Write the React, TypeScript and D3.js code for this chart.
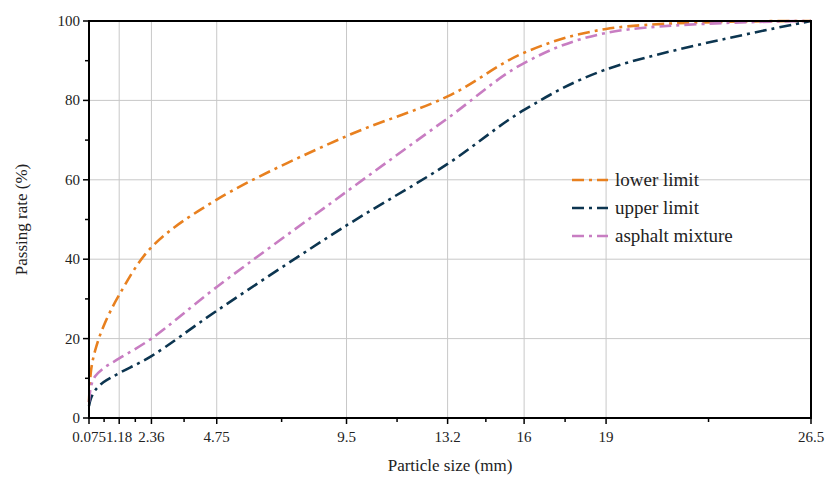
import React from 'react';
import * as d3 from 'd3';

// sieve sizes (mm)
const sizes = [0.075, 0.15, 0.3, 0.6, 1.18, 2.36, 4.75, 9.5, 13.2, 16, 19, 26.5];
const lowerLimit = [4, 12, 17, 23, 31, 43, 55, 71, 81, 92, 98, 100];
const upperLimit = [3, 5, 7, 9, 11.3, 15.6, 27, 48.5, 64, 77.6, 87.8, 100];
const asphaltMixture = [4, 8, 10.5, 12.5, 15, 20, 33, 57, 75.5, 89.4, 97, 100];

const xTicks = [0.075, 1.18, 2.36, 4.75, 9.5, 13.2, 16, 19, 26.5];
const xTickLabels = ['0.075', '1.18', '2.36', '4.75', '9.5', '13.2', '16', '19', '26.5'];
const yTicks = [0, 20, 40, 60, 80, 100];
const yMinorTicks = [10, 30, 50, 70, 90];

const seriesNames = ['lower limit', 'upper limit', 'asphalt mixture'];
const seriesColors = ['#e8801f', '#0c3550', '#c87dc2'];

const W = 829, H = 478;
const left = 89, right = 811, top = 21, bottom = 418;
const dash = '12,5,3,5';

const txt = (size: number) => ({ fontFamily: "'Liberation Serif', serif", fontSize: size });

const App = () => {
  const x = d3.scaleLinear().domain([0.075, 26.5]).range([left, right]);
  const y = d3.scaleLinear().domain([0, 100]).range([bottom, top]);

  const line = d3.line<number>()
    .x((_, i) => x(sizes[i]))
    .y(d => y(d))
    .curve(d3.curveCatmullRom.alpha(0.5));

  const seriesData = [lowerLimit, upperLimit, asphaltMixture];
  const xMinor = xTicks.slice(0, -1).map((t, i) => (t + xTicks[i + 1]) / 2);

  return (
    <svg width={W} height={H} style={{ position: 'absolute', left: 0, top: 0 }}>
      <rect width={W} height={H} fill="#fff" />

      {/* grid */}
      <g stroke="#c8c8c8" strokeWidth={1}>
        {xTicks.slice(1, -1).map(t => (
          <line key={'gx' + t} x1={x(t)} x2={x(t)} y1={top} y2={bottom} />
        ))}
        {yTicks.slice(1, -1).map(t => (
          <line key={'gy' + t} x1={left} x2={right} y1={y(t)} y2={y(t)} />
        ))}
      </g>

      {/* curves */}
      {seriesData.map((vals, i) => (
        <path key={seriesNames[i]} d={line(vals) || ''} fill="none"
          stroke={seriesColors[i]} strokeWidth={2.6} strokeDasharray={dash} />
      ))}

      {/* frame */}
      <rect x={left} y={top} width={right - left} height={bottom - top}
        fill="none" stroke="#000" strokeWidth={2} />

      {/* ticks */}
      <g stroke="#000" strokeWidth={1.5}>
        {xTicks.map(t => (
          <line key={'xt' + t} x1={x(t)} x2={x(t)} y1={bottom} y2={bottom + 6} />
        ))}
        {xMinor.map(t => (
          <line key={'xm' + t} x1={x(t)} x2={x(t)} y1={bottom} y2={bottom + 4} />
        ))}
        {yTicks.map(t => (
          <line key={'yt' + t} x1={left - 6} x2={left} y1={y(t)} y2={y(t)} />
        ))}
        {yMinorTicks.map(t => (
          <line key={'ym' + t} x1={left - 4} x2={left} y1={y(t)} y2={y(t)} />
        ))}
      </g>
      {xTicks.map((t, i) => (
        <text key={'xl' + t} x={x(t)} y={bottom + 24} textAnchor="middle"
          style={txt(15)} fill="#222">{xTickLabels[i]}</text>
      ))}
      {yTicks.map(t => (
        <text key={'yl' + t} x={left - 9} y={y(t) + 5} textAnchor="end"
          style={txt(15)} fill="#222">{t}</text>
      ))}

      {/* axis titles */}
      <text x={(left + right) / 2} y={471} textAnchor="middle" style={txt(17)} fill="#222">
        Particle size (mm)
      </text>
      <text transform={`translate(27,${(top + bottom) / 2}) rotate(-90)`} textAnchor="middle"
        style={txt(17)} fill="#222">
        Passing rate (%)
      </text>

      {/* legend */}
      <g transform="translate(572,180)">
        {seriesNames.map((name, i) => (
          <g key={name} transform={`translate(0,${i * 28})`}>
            <line x1={0} x2={36} y1={0} y2={0} stroke={seriesColors[i]}
              strokeWidth={2.6} strokeDasharray={dash} />
            <text x={43} y={6} style={txt(19)} fill="#222">{name}</text>
          </g>
        ))}
      </g>
    </svg>
  );
};

export default App;
